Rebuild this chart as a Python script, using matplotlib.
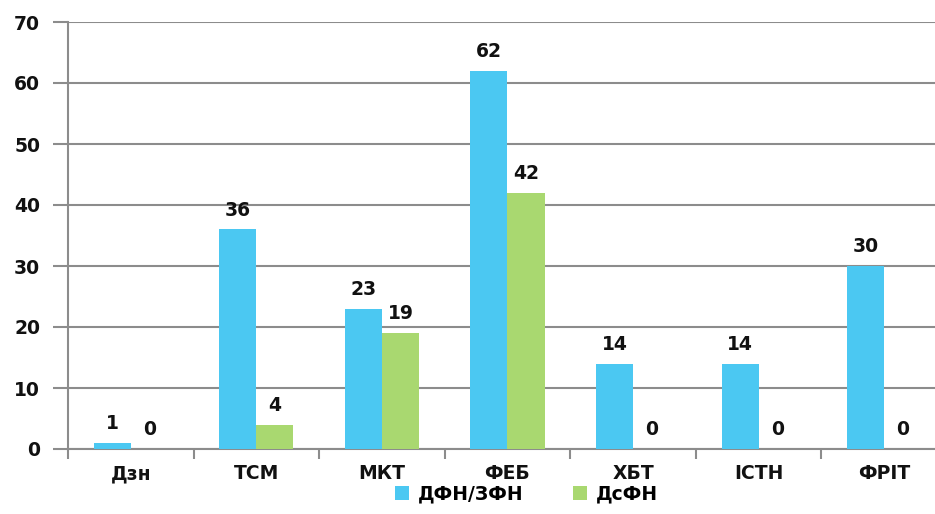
import numpy as np
import matplotlib.pyplot as plt

categories = ['Дзн', 'ТСМ', 'МКТ', 'ФЕБ', 'ХБТ', 'ІСТН', 'ФРІТ']
dfn_zfn = [1, 36, 23, 62, 14, 14, 30]
dsfn = [0, 4, 19, 42, 0, 0, 0]
series_names = ['ДФН/ЗФН', 'ДсФН']

blue = '#4BC8F2'
green = '#A9D870'
grey = '#8C8C8C'
fs = 13.5

plt.rcParams['font.family'] = ['DejaVu Sans']

fig = plt.figure(figsize=(9.35, 5.14), dpi=100)
# plot area runs a little past the right edge, as in the reference
ax = fig.add_axes([68 / 935, 1 - 449 / 514, (947 - 68) / 935, (449 - 22) / 514])

x = np.arange(len(categories))
w = 0.295
b1 = ax.bar(x - w / 2, dfn_zfn, w, color=blue, label=series_names[0], zorder=3)
b2 = ax.bar(x + w / 2, dsfn, w, color=green, label=series_names[1], zorder=3)

for bars in (b1, b2):
    for r in bars:
        ax.text(r.get_x() + r.get_width() / 2, r.get_height() + 1.6,
                str(int(r.get_height())), ha='center', va='bottom',
                fontsize=fs, fontweight='bold', color='#111111')

ax.set_xlim(-0.5, len(categories) - 0.5)
ax.set_ylim(0, 70)
ax.set_yticks(range(0, 71, 10))
ax.yaxis.grid(True, color=grey, linewidth=1.5, zorder=0)

ax.set_xticks(x)
ax.set_xticklabels(categories)
ax.set_xticks(np.arange(-0.5, len(categories), 1), minor=True)
ax.tick_params(axis='x', which='major', length=0, pad=11)
ax.tick_params(axis='x', which='minor', length=7, width=1.5, color=grey)
ax.tick_params(axis='y', length=11, width=1.5, color=grey, pad=9)
for lab in ax.get_xticklabels() + ax.get_yticklabels():
    lab.set_fontsize(fs)
    lab.set_fontweight('bold')
    lab.set_color('#111111')

for s in ['top', 'right']:
    ax.spines[s].set_visible(False)
for s in ['left', 'bottom']:
    ax.spines[s].set_color(grey)
    ax.spines[s].set_linewidth(1.5)

fig.legend(loc='lower center', bbox_to_anchor=(0.563, -0.012), ncol=2, frameon=False,
           prop={'size': fs, 'weight': 'bold'}, handlelength=0.75, handleheight=0.75,
           columnspacing=2.6, handletextpad=0.5)

fig.savefig('out.png', dpi=100)
